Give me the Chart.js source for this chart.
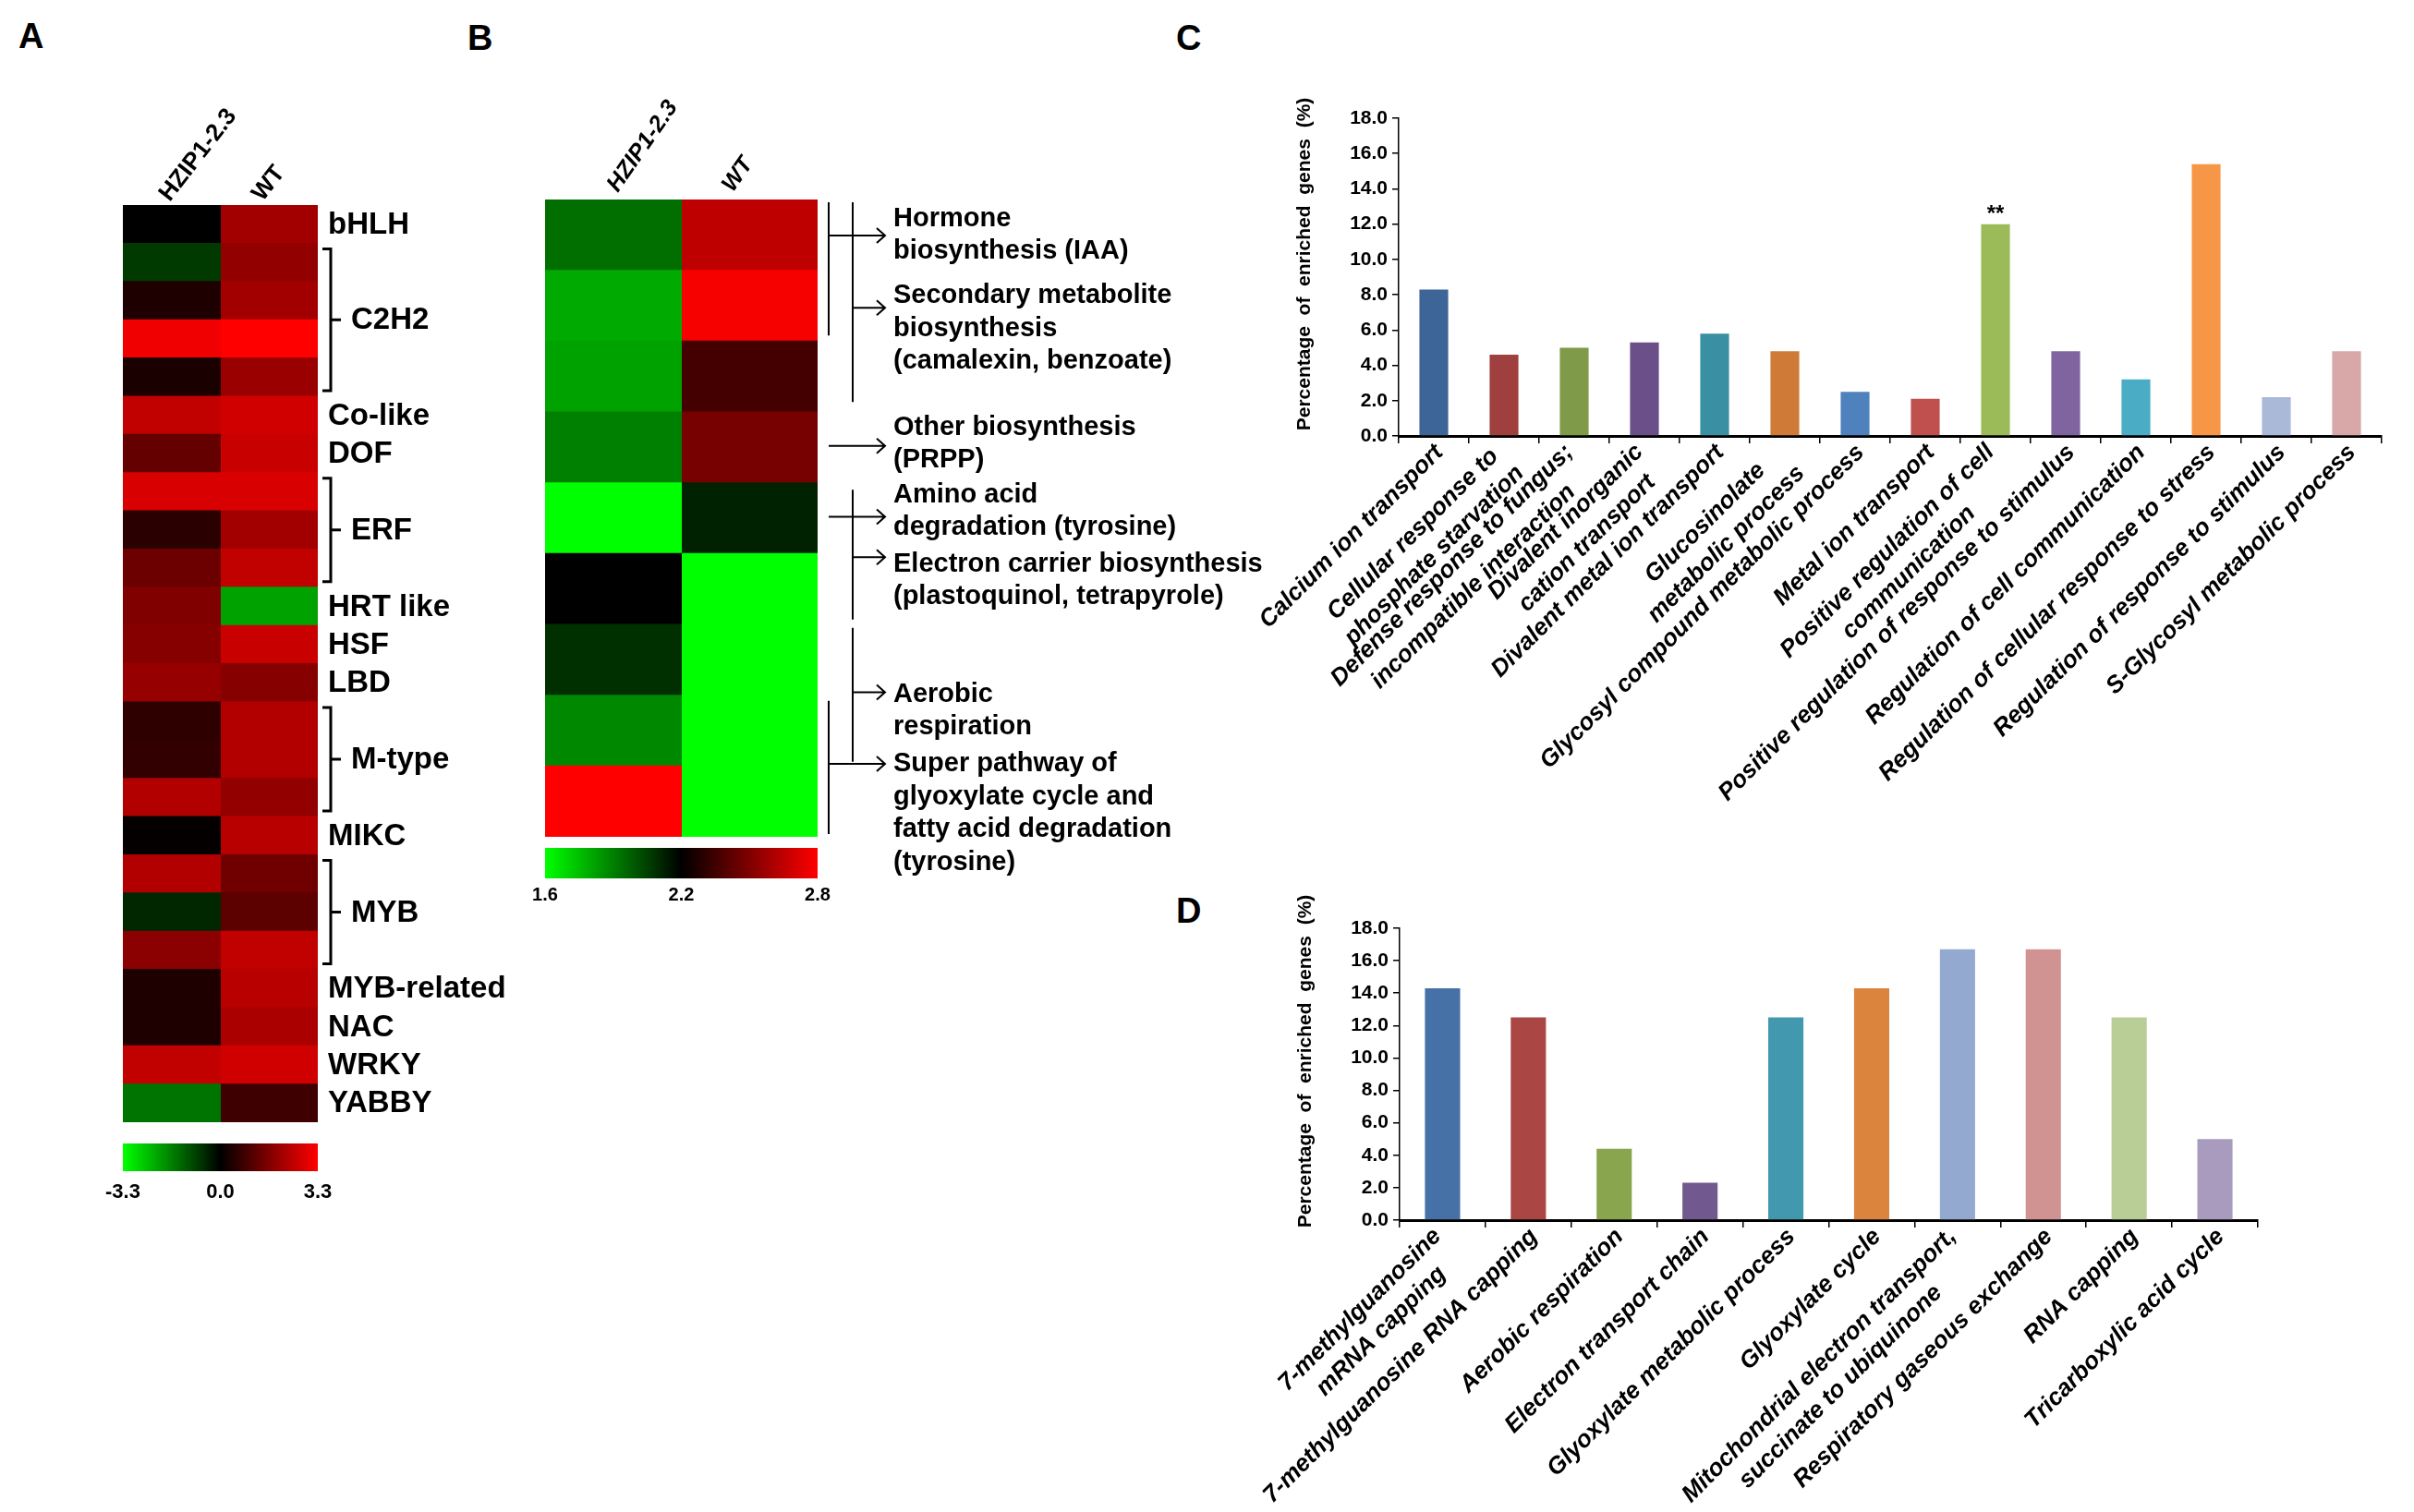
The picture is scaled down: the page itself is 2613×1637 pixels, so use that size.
<!DOCTYPE html>
<html>
<head>
<meta charset="utf-8">
<script src="https://cdn.jsdelivr.net/npm/chart.js@4.4.1/dist/chart.umd.min.js"></script>
<style>
  body { margin: 0; background: #fff; width: 2613px; height: 1637px; position: relative; overflow: hidden; }
  .letter { position: absolute; font: bold 38px Arial, "Liberation Sans", sans-serif; line-height: 1; color: #000; }
  canvas { position: absolute; }
</style>
</head>
<body>
<div class="letter" style="left:20px;top:20px">A</div>
<div class="letter" style="left:506px;top:22px">B</div>
<div class="letter" style="left:1273px;top:22px">C</div>
<div class="letter" style="left:1273px;top:967px">D</div>

<canvas id="heatA" width="560" height="1225" style="left:0;top:0"></canvas>
<canvas id="barA" width="320" height="90" style="left:80px;top:1225px"></canvas>
<canvas id="heatB" width="820" height="960" style="left:560px;top:0"></canvas>
<canvas id="barB" width="400" height="90" style="left:540px;top:905px"></canvas>
<canvas id="chartC" width="1273" height="880" style="left:1340px;top:60px"></canvas>
<canvas id="chartD" width="1273" height="697" style="left:1340px;top:940px"></canvas>

<script>
const FONT = 'Arial, "Liberation Sans", sans-serif';

// ---- panel A: TF families, log2 values ----
const heatColumns = ["HZIP1-2.3", "WT"];
const familiesA = ["bHLH", "C2H2", "C2H2", "C2H2", "C2H2", "Co-like", "DOF", "ERF", "ERF", "ERF",
  "HRT like", "HSF", "LBD", "M-type", "M-type", "M-type", "MIKC", "MYB", "MYB", "MYB",
  "MYB-related", "NAC", "WRKY", "YABBY"];
const hzipA = [0.0, -0.75, 0.4, 3.1, 0.35, 2.5, 1.3, 2.8, 0.55, 1.4, 1.65, 1.75, 1.95, 0.6, 0.65, 2.3,
  0.05, 2.3, -0.5, 1.8, 0.4, 0.4, 2.5, -1.5];
const wtA = [2.1, 1.9, 2.1, 3.3, 2.0, 2.7, 2.6, 2.8, 2.1, 2.5, -2.1, 2.6, 1.75, 2.3, 2.3, 1.9,
  2.4, 1.45, 1.2, 2.5, 2.4, 2.2, 2.7, 0.8];
const scaleTicksA = [-3.3, 0.0, 3.3];

// ---- panel B: pathways ----
const rowsB = ["1", "2", "3", "4", "5", "6", "7", "8", "9"];
const hzipB = [1.94, 1.8, 1.82, 1.9, 1.6, 2.2, 2.09, 1.88, 2.8];
const wtB = [2.65, 2.78, 2.36, 2.48, 2.12, 1.6, 1.6, 1.6, 1.6];
const scaleTicksB = [1.6, 2.2, 2.8];
const notesB = [
  [0.27, ["Hormone", "biosynthesis (IAA)"]],
  [1.36, ["Secondary metabolite", "biosynthesis", "(camalexin, benzoate)"]],
  [3.22, ["Other biosynthesis", "(PRPP)"]],
  [4.17, ["Amino acid", "degradation (tyrosine)"]],
  [5.15, ["Electron carrier biosynthesis", "(plastoquinol, tetrapyrole)"]],
  [6.99, ["Aerobic", "respiration"]],
  [7.97, ["Super pathway of", "glyoxylate cycle and", "fatty acid degradation", "(tyrosine)"]]
];

// ---- panel C / D: GO enrichment ----
const pctTicks = [0, 2, 4, 6, 8, 10, 12, 14, 16, 18];
const catsC = [
  ["Calcium ion transport"],
  ["Cellular response to", "phosphate starvation"],
  ["Defense response to fungus;", "incompatible interaction"],
  ["Divalent inorganic", "cation transport"],
  ["Divalent metal ion transport"],
  ["Glucosinolate", "metabolic process"],
  ["Glycosyl compound metabolic process"],
  ["Metal ion transport"],
  ["Positive regulation of cell", "communication"],
  ["Positive regulation of response to stimulus"],
  ["Regulation of cell communication"],
  ["Regulation of cellular response to stress"],
  ["Regulation of response to stimulus"],
  ["S-Glycosyl metabolic process"]
];
const valsC = [8.3, 4.6, 5.0, 5.3, 5.8, 4.8, 2.5, 2.1, 12.0, 4.8, 3.2, 15.4, 2.2, 4.8];
const colorsC = ["#3e6598", "#9f3f3e", "#7f9a48", "#6a4f88", "#3b8fa3", "#cf7b37", "#4f81bd",
  "#c0504d", "#9bbb59", "#8064a2", "#4bacc6", "#f79646", "#aab9d8", "#d7a8a7"];
const markC = { index: 8, text: "**" };

const catsD = [
  ["7-methylguanosine", "mRNA capping"],
  ["7-methylguanosine RNA capping"],
  ["Aerobic respiration"],
  ["Electron transport chain"],
  ["Glyoxylate metabolic process"],
  ["Glyoxylate cycle"],
  ["Mitochondrial electron transport,", "succinate to ubiquinone"],
  ["Respiratory gaseous exchange"],
  ["RNA capping"],
  ["Tricarboxylic acid cycle"]
];
const valsD = [14.3, 12.5, 4.4, 2.3, 12.5, 14.3, 16.7, 16.7, 12.5, 5.0];
const colorsD = ["#4571a6", "#aa4644", "#89a54e", "#71588f", "#4198af", "#db843d", "#93a9cf",
  "#d19392", "#b9cd96", "#a99bbd"];

Chart.defaults.font.family = FONT;
Chart.defaults.color = "#000";
Chart.defaults.animation = false;

function heatColor(v, lo, mid, hi) {
  const t = v >= mid ? (v - mid) / (hi - mid) : (mid - v) / (mid - lo);
  const c = Math.round(255 * Math.min(1, t));
  return v >= mid ? `rgb(${c},0,0)` : `rgb(0,${c},0)`;
}

// column headers, rotated; offsets are per column
function drawHeaders(chart, font, angle, dxs, dy) {
  const { ctx, chartArea: a, scales: { x } } = chart;
  ctx.save();
  ctx.fillStyle = "#000";
  ctx.font = font;
  heatColumns.forEach((c, i) => {
    ctx.save();
    ctx.translate(x.getPixelForValue(i + 0.5) + dxs[i], a.top + dy);
    ctx.rotate(-angle * Math.PI / 180);
    ctx.fillText(c, 0, 0);
    ctx.restore();
  });
  ctx.restore();
}

const labelsA = {
  id: "labelsA",
  afterDatasetsDraw(chart) {
    const { ctx, chartArea: a, scales: { y } } = chart;
    drawHeaders(chart, `bold 26px ${FONT}`, 52, [-2, -7], -3);
    const rowH = y.getPixelForValue(1) - y.getPixelForValue(0);
    ctx.save();
    ctx.fillStyle = "#000";
    ctx.strokeStyle = "#000";
    ctx.lineWidth = 3;
    ctx.font = `bold 33px ${FONT}`;
    ctx.textBaseline = "middle";
    let i = 0;
    while (i < familiesA.length) {
      let j = i;
      while (j + 1 < familiesA.length && familiesA[j + 1] === familiesA[i]) j++;
      const y0 = y.getPixelForValue(i) - rowH / 2;
      const y1 = y.getPixelForValue(j) + rowH / 2;
      const ym = (y0 + y1) / 2;
      if (j > i) {
        const bx = a.right + 14;
        ctx.beginPath();
        ctx.moveTo(a.right + 5, y0 + 6);
        ctx.lineTo(bx, y0 + 6);
        ctx.lineTo(bx, y1 - 6);
        ctx.lineTo(a.right + 5, y1 - 6);
        ctx.moveTo(bx, ym);
        ctx.lineTo(bx + 11, ym);
        ctx.stroke();
        ctx.fillText(familiesA[i], a.right + 36, ym + 1);
      } else {
        ctx.fillText(familiesA[i], a.right + 11, ym + 1);
      }
      i = j + 1;
    }
    ctx.restore();
  }
};

// bracket lines and arrows of panel B, in row units
const linksB = [[12, 0.04, 1.92], [38, 0.04, 2.86], [38, 4.1, 5.93], [38, 6.05, 7.94], [12, 7.08, 8.96]];
const arrowsB = [[12, 0.51], [38, 1.53], [12, 3.48], [12, 4.48], [38, 5.05], [38, 6.96], [12, 7.97]];

const annotB = {
  id: "annotB",
  afterDatasetsDraw(chart) {
    const { ctx, chartArea: a, scales: { y } } = chart;
    drawHeaders(chart, `italic bold 25px ${FONT}`, 55, [5, -18], -7);
    const rowH = y.getPixelForValue(1) - y.getPixelForValue(0);
    const rowY = r => y.getPixelForValue(0) - rowH / 2 + r * rowH;
    ctx.save();
    ctx.strokeStyle = "#000";
    ctx.fillStyle = "#000";
    ctx.lineWidth = 2;
    ctx.beginPath();
    linksB.forEach(([dx, r0, r1]) => {
      ctx.moveTo(a.right + dx, rowY(r0));
      ctx.lineTo(a.right + dx, rowY(r1));
    });
    arrowsB.forEach(([dx, r]) => {
      const yy = rowY(r), tip = a.right + 73;
      ctx.moveTo(a.right + dx, yy);
      ctx.lineTo(tip, yy);
      ctx.moveTo(tip - 9, yy - 8);
      ctx.lineTo(tip, yy);
      ctx.lineTo(tip - 9, yy + 8);
    });
    ctx.stroke();
    ctx.font = `bold 29px ${FONT}`;
    ctx.textBaseline = "middle";
    notesB.forEach(([r, lines]) => lines.forEach((t, k) => ctx.fillText(t, a.right + 82, rowY(r) + k * 35.5)));
    ctx.restore();
  }
};

function heatmap(id, rows, colA, colB, lo, mid, hi, pad, plugin) {
  return new Chart(document.getElementById(id), {
    type: "bar",
    data: {
      labels: rows,
      datasets: [colA, colB].map((vals, c) => ({
        data: vals.map(() => [c, c + 1]),
        backgroundColor: vals.map(v => heatColor(v, lo, mid, hi)),
        grouped: false,
        barPercentage: 1,
        categoryPercentage: 1,
        borderWidth: 0,
        inflateAmount: 0.5
      }))
    },
    options: {
      indexAxis: "y",
      responsive: false,
      layout: { padding: pad },
      plugins: { legend: { display: false }, tooltip: { enabled: false } },
      scales: {
        x: { type: "linear", min: 0, max: 2, display: false },
        y: { display: false }
      }
    },
    plugins: [plugin]
  });
}

function colorbar(id, ticks, size, pad, axisH, tickPad) {
  const lo = ticks[0], hi = ticks[ticks.length - 1];
  return new Chart(document.getElementById(id), {
    type: "bar",
    data: {
      labels: [""],
      datasets: [{
        data: [[lo, hi]],
        backgroundColor: c => {
          const area = c.chart.chartArea;
          if (!area) return "#000";
          const g = c.chart.ctx.createLinearGradient(area.left, 0, area.right, 0);
          g.addColorStop(0, "#00ff00");
          g.addColorStop(0.5, "#000000");
          g.addColorStop(1, "#ff0000");
          return g;
        },
        barPercentage: 1,
        categoryPercentage: 1,
        borderWidth: 0
      }]
    },
    options: {
      indexAxis: "y",
      responsive: false,
      layout: { padding: pad },
      plugins: { legend: { display: false }, tooltip: { enabled: false } },
      scales: {
        x: {
          type: "linear", min: lo, max: hi,
          afterBuildTicks: s => { s.ticks = ticks.map(v => ({ value: v })); },
          ticks: { callback: v => v.toFixed(1), font: { size: size, weight: "bold" }, padding: tickPad, maxRotation: 0, autoSkip: false },
          grid: { display: false, drawTicks: false },
          border: { display: false },
          afterFit: s => { s.height = axisH; }
        },
        y: { display: false }
      }
    }
  });
}

function slantLabels(size) {
  return {
    id: "slant",
    afterDraw(chart) {
      const { ctx, chartArea: a, scales: { x } } = chart;
      ctx.save();
      ctx.font = `italic bold ${size}px ${FONT}`;
      ctx.fillStyle = "#000";
      ctx.textAlign = "right";
      ctx.textBaseline = "middle";
      const lh = size * 1.25;
      chart.data.labels.forEach((lines, i) => {
        const n = lines.length;
        const maxW = Math.max(...lines.map(l => ctx.measureText(l).width));
        ctx.save();
        ctx.translate(x.getPixelForValue(i) + 6, a.bottom + 14 + (n - 1) * 11);
        ctx.rotate(-Math.PI / 4);
        lines.forEach((l, k) => {
          const w = ctx.measureText(l).width;
          ctx.fillText(l, -(maxW - w) / 2, (k - (n - 1) / 2) * lh);
        });
        ctx.restore();
      });
      ctx.restore();
    }
  };
}

const yTitle = {
  id: "yTitle",
  afterDraw(chart) {
    const { ctx, chartArea: a } = chart;
    ctx.save();
    ctx.font = `bold 21px ${FONT}`;
    ctx.fillStyle = "#000";
    ctx.textAlign = "center";
    ctx.textBaseline = "middle";
    ctx.translate(a.left - 102, (a.top + a.bottom) / 2 - 14);
    ctx.rotate(-Math.PI / 2);
    ctx.fillText("Percentage  of  enriched  genes  (%)", 0, 0);
    ctx.restore();
  }
};

const starMark = {
  id: "starMark",
  afterDatasetsDraw(chart) {
    const bar = chart.getDatasetMeta(0).data[markC.index];
    const { ctx } = chart;
    ctx.save();
    ctx.font = `bold 24px ${FONT}`;
    ctx.fillStyle = "#000";
    ctx.textAlign = "center";
    ctx.textBaseline = "bottom";
    ctx.fillText(markC.text, bar.x, bar.y + 2);
    ctx.restore();
  }
};

function pctChart(id, cats, vals, colors, areaLeft, axisH, pad, labelSize, extra) {
  return new Chart(document.getElementById(id), {
    type: "bar",
    data: {
      labels: cats,
      datasets: [{ data: vals, backgroundColor: colors, barPercentage: 0.82, categoryPercentage: 0.5 }]
    },
    options: {
      responsive: false,
      layout: { padding: pad },
      plugins: { legend: { display: false }, tooltip: { enabled: false } },
      scales: {
        x: {
          ticks: { display: false },
          grid: { drawOnChartArea: false, offset: true, tickLength: 8, color: "#000", lineWidth: 1.5 },
          border: { color: "#000", width: 3 },
          afterFit: s => { s.height = axisH; }
        },
        y: {
          min: 0, max: 18,
          afterBuildTicks: s => { s.ticks = pctTicks.map(v => ({ value: v })); },
          ticks: { callback: v => v.toFixed(1), font: { size: 21, weight: "bold" }, padding: 5 },
          grid: { drawOnChartArea: false, tickLength: 7, color: "#000", lineWidth: 1.5 },
          border: { color: "#000", width: 1.5 },
          afterFit: s => { s.width = areaLeft; }
        }
      }
    },
    plugins: [slantLabels(labelSize), yTitle].concat(extra ? [extra] : [])
  });
}

heatmap("heatA", familiesA, hzipA, wtA, -3.3, 0, 3.3, { left: 133, right: 216, top: 222, bottom: 10 }, labelsA);
colorbar("barA", scaleTicksA, 22, { left: 53, right: 56, top: 13, bottom: 0 }, 47, 10);
heatmap("heatB", rowsB, hzipB, wtB, 1.6, 2.2, 2.8, { left: 30, right: 495, top: 216, bottom: 54 }, annotB);
colorbar("barB", scaleTicksB, 20, { left: 50, right: 55, top: 13, bottom: 0 }, 44, 6);
pctChart("chartC", catsC, valsC, colorsC, 174, 468, { left: 0, right: 35, top: 68, bottom: 0 }, 26, starMark);
pctChart("chartD", catsD, valsD, colorsD, 175, 316, { left: 0, right: 169, top: 65, bottom: 0 }, 26, null);
</script>
</body>
</html>
